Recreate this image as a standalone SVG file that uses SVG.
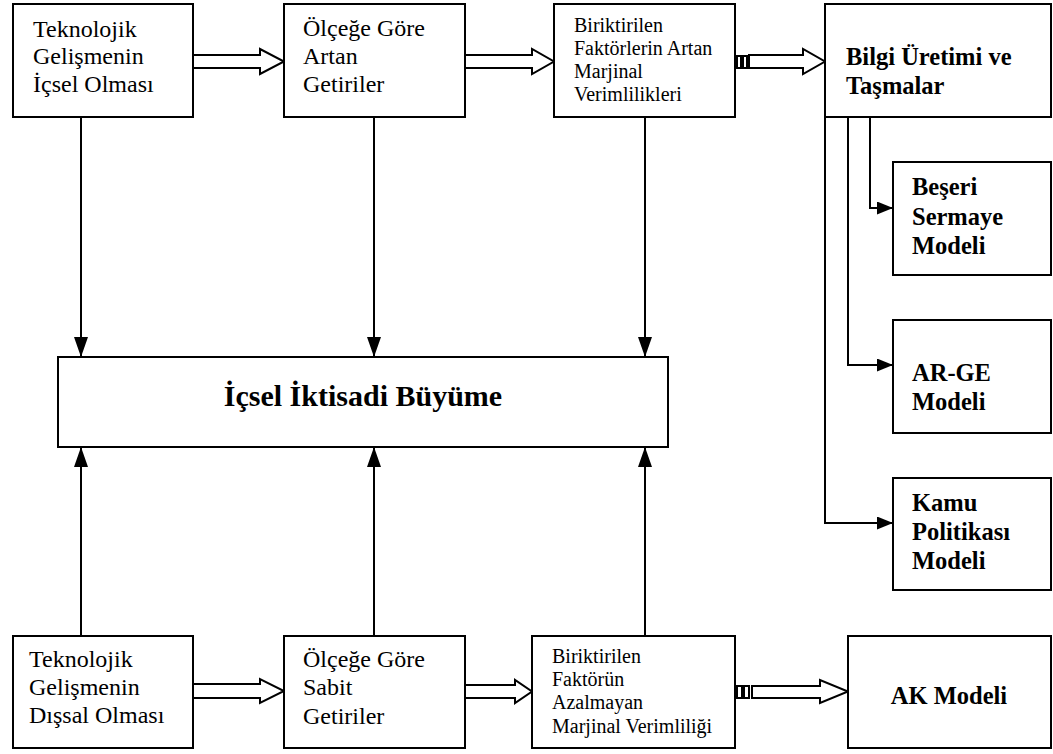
<svg xmlns="http://www.w3.org/2000/svg" width="1053" height="754" viewBox="0 0 1053 754">
<style>
.box{fill:#fff;stroke:#000;stroke-width:2}
.t{font-family:"Liberation Serif","Times New Roman",serif;font-size:24px;fill:#000}
.s{font-family:"Liberation Serif","Times New Roman",serif;font-size:20px;fill:#000}
.b{font-family:"Liberation Serif","Times New Roman",serif;font-size:24.5px;font-weight:bold;fill:#000}
.ln{fill:none;stroke:#000;stroke-width:2}
.ha{fill:#fff;stroke:#000;stroke-width:2;stroke-linejoin:miter}
</style>
<defs>
<marker id="av" markerWidth="20" markerHeight="14" refX="20" refY="7" orient="auto" markerUnits="userSpaceOnUse"><path d="M0,0 L20,7 L0,14 z" fill="#000"/></marker>
<marker id="ar" markerWidth="16" markerHeight="13" refX="16" refY="6.5" orient="auto" markerUnits="userSpaceOnUse"><path d="M0,0 L16,6.5 L0,13 z" fill="#000"/></marker>
</defs>
<rect width="1053" height="754" fill="#fff"/>

<g id="connectors">
<!-- hollow arrows top -->
<path class="ha" d="M193,55 L260,55 L260,49 L284,61.5 L260,74 L260,68 L193,68 Z"/>
<path class="ha" d="M465,55 L532,55 L532,49 L554,61.5 L532,74 L532,68 L465,68 Z"/>
<rect class="ha" x="737" y="56" width="4" height="12" stroke-width="1.5"/>
<rect class="ha" x="743" y="56" width="4" height="12" stroke-width="1.5"/>
<path class="ha" d="M749,55 L803,55 L803,49 L825,61.5 L803,74 L803,68 L749,68 Z"/>
<!-- hollow arrows bottom -->
<path class="ha" d="M193,684 L260,684 L260,679 L284,691 L260,703 L260,698 L193,698 Z"/>
<path class="ha" d="M465,685 L515,685 L515,680 L532,691.5 L515,703 L515,698 L465,698 Z"/>
<rect class="ha" x="737" y="686" width="5" height="12" stroke-width="1.5"/>
<rect class="ha" x="744" y="686" width="5" height="12" stroke-width="1.5"/>
<path class="ha" d="M752,686 L820,686 L820,680 L848,691.5 L820,703 L820,698 L752,698 Z"/>
<!-- vertical to central box -->
<line class="ln" x1="81" y1="117" x2="81" y2="357" marker-end="url(#av)"/>
<line class="ln" x1="374" y1="117" x2="374" y2="357" marker-end="url(#av)"/>
<line class="ln" x1="645" y1="117" x2="645" y2="357" marker-end="url(#av)"/>
<line class="ln" x1="81" y1="636" x2="81" y2="447" marker-end="url(#av)"/>
<line class="ln" x1="374" y1="636" x2="374" y2="447" marker-end="url(#av)"/>
<line class="ln" x1="645" y1="636" x2="645" y2="447" marker-end="url(#av)"/>
<!-- Bilgi branches -->
<path class="ln" d="M870,117 L870,208 L893,208" marker-end="url(#ar)"/>
<path class="ln" d="M848,117 L848,365 L893,365" marker-end="url(#ar)"/>
<path class="ln" d="M825,117 L825,523 L893,523" marker-end="url(#ar)"/>
</g>

<g id="n-icsel">
<rect class="box" x="13" y="4" width="180" height="113"/>
<text class="t" x="33" y="37">Teknolojik</text>
<text class="t" x="33" y="64">Gelişmenin</text>
<text class="t" x="33" y="92">İçsel Olması</text>
</g>
<g id="n-artan">
<rect class="box" x="284" y="4" width="181" height="113"/>
<text class="t" x="303" y="36">Ölçeğe Göre</text>
<text class="t" x="303" y="64">Artan</text>
<text class="t" x="303" y="92">Getiriler</text>
</g>
<g id="n-birik-artan">
<rect class="box" x="554" y="4" width="181" height="113"/>
<text class="s" x="574" y="32">Biriktirilen</text>
<text class="s" x="574" y="55">Faktörlerin Artan</text>
<text class="s" x="574" y="78">Marjinal</text>
<text class="s" x="574" y="101">Verimlilikleri</text>
</g>
<g id="n-bilgi">
<rect class="box" x="825" y="4" width="226" height="113"/>
<text class="b" x="846" y="65">Bilgi Üretimi ve</text>
<text class="b" x="846" y="94">Taşmalar</text>
</g>
<g id="n-beseri">
<rect class="box" x="893" y="162" width="158" height="113"/>
<text class="b" x="912" y="195">Beşeri</text>
<text class="b" x="912" y="225">Sermaye</text>
<text class="b" x="912" y="254">Modeli</text>
</g>
<g id="n-arge">
<rect class="box" x="893" y="320" width="158" height="113"/>
<text class="b" x="912" y="381">AR-GE</text>
<text class="b" x="912" y="410">Modeli</text>
</g>
<g id="n-kamu">
<rect class="box" x="893" y="478" width="158" height="112"/>
<text class="b" x="912" y="511">Kamu</text>
<text class="b" x="912" y="540">Politikası</text>
<text class="b" x="912" y="569">Modeli</text>
</g>
<g id="n-buyume">
<rect class="box" x="58" y="357" width="610" height="90"/>
<text class="b" x="363" y="406" text-anchor="middle" style="font-size:30px">İçsel İktisadi Büyüme</text>
</g>
<g id="n-dissal">
<rect class="box" x="13" y="636" width="180" height="112"/>
<text class="t" x="29" y="667">Teknolojik</text>
<text class="t" x="29" y="695">Gelişmenin</text>
<text class="t" x="29" y="723">Dışsal Olması</text>
</g>
<g id="n-sabit">
<rect class="box" x="284" y="636" width="181" height="112"/>
<text class="t" x="303" y="667">Ölçeğe Göre</text>
<text class="t" x="303" y="695">Sabit</text>
<text class="t" x="303" y="724">Getiriler</text>
</g>
<g id="n-birik-azal">
<rect class="box" x="532" y="636" width="203" height="112"/>
<text class="s" x="552" y="663">Biriktirilen</text>
<text class="s" x="552" y="686">Faktörün</text>
<text class="s" x="552" y="709">Azalmayan</text>
<text class="s" x="552" y="733">Marjinal Verimliliği</text>
</g>
<g id="n-ak">
<rect class="box" x="848" y="636" width="203" height="112"/>
<text class="b" x="949" y="704" text-anchor="middle">AK Modeli</text>
</g>
</svg>
